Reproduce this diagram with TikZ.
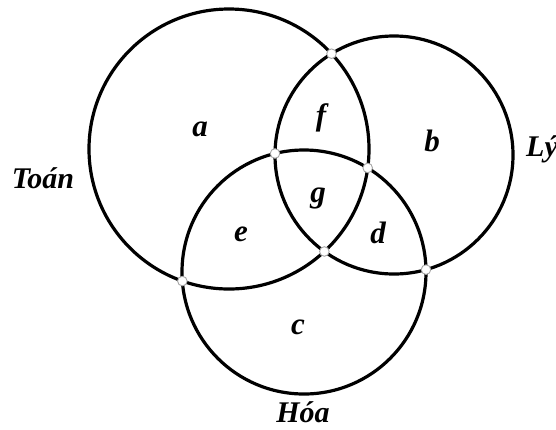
\documentclass[tikz,border=0pt]{standalone}
\usepackage{fontspec}
\setmainfont{Liberation Serif}
\usetikzlibrary{intersections}
\begin{document}
\begin{tikzpicture}[x=1pt,y=-1pt,
  setc/.style={line width=3.2pt,black},
  lbl/.style={font=\bfseries\itshape\fontsize{30}{34}\selectfont,inner sep=0pt},
  region/.style={font=\bfseries\itshape\fontsize{31}{34}\selectfont,inner sep=0pt},
  dot/.style={fill=white,draw=gray!70,line width=0.9pt}]
\useasboundingbox (0,0) rectangle (556,429);
\clip (0,0) rectangle (556,429);
\draw[setc,name path=T] (229,149) circle[radius=140];
\draw[setc,name path=L] (394,155) circle[radius=119];
\draw[setc,name path=H] (304,272) circle[radius=122];
\path[name intersections={of=T and L,name=tl}];
\path[name intersections={of=T and H,name=th}];
\path[name intersections={of=L and H,name=lh}];
\foreach \p in {tl-1,tl-2,th-1,th-2,lh-1,lh-2}{
  \draw[dot] (\p) circle[radius=4.8];
}
\node[region] (a) at (200,129) {a};
\node[region] (f) at (321,118) {f};
\node[region] (b) at (432,141) {b};
\node[region] (g) at (318,198) {g};
\node[region] (e) at (241,234) {e};
\node[region] (d) at (378,233) {d};
\node[region] (c) at (298,327) {c};
\node[lbl] (toan) at (43,178) {Toán};
\node[lbl,anchor=west] (ly) at (526,149) {Lý};
\node[lbl] (hoa) at (303,412) {Hóa};
\end{tikzpicture}
\end{document}
